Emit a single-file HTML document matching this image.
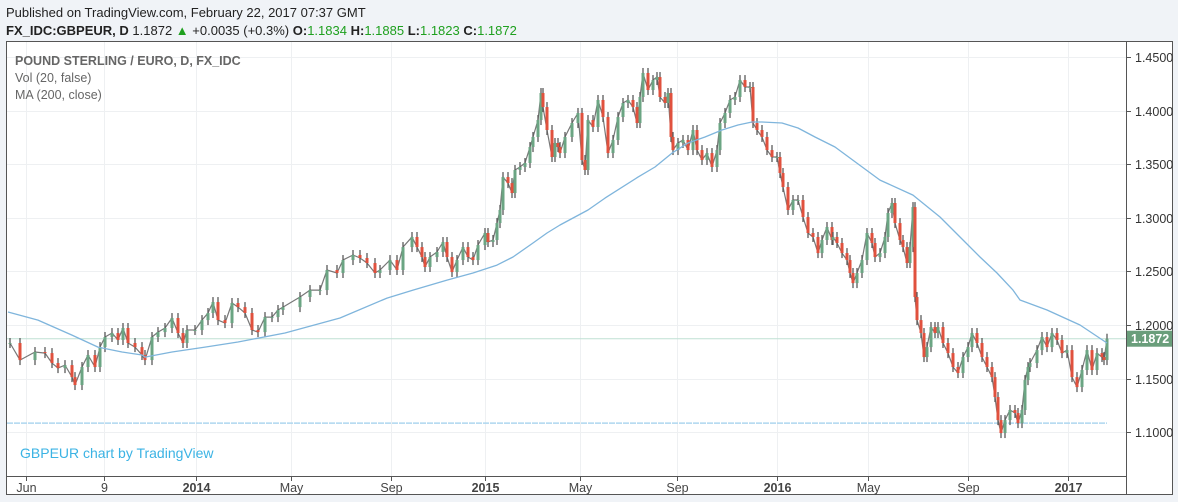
<!DOCTYPE html>
<html><head><meta charset="utf-8"><style>
html,body{margin:0;padding:0;background:#f0f3f7;width:1178px;height:502px;overflow:hidden;font-family:"Liberation Sans",sans-serif}
svg{display:block}
</style></head><body>
<svg id="chart" width="1178" height="502" xmlns="http://www.w3.org/2000/svg">
<text x="6" y="17" font-size="13" fill="#222">Published on TradingView.com, February 22, 2017 07:37 GMT</text>
<text x="6" y="35" font-size="13" fill="#222"><tspan font-weight="bold">FX_IDC:GBPEUR, D</tspan> 1.1872 <tspan fill="#1fa01f">▲</tspan> +0.0035 (+0.3%) <tspan font-weight="bold">O:</tspan><tspan fill="#1fa01f">1.1834</tspan> <tspan font-weight="bold">H:</tspan><tspan fill="#1fa01f">1.1885</tspan> <tspan font-weight="bold">L:</tspan><tspan fill="#1fa01f">1.1823</tspan> <tspan font-weight="bold">C:</tspan><tspan fill="#1fa01f">1.1872</tspan></text>
<rect x="6.5" y="41.5" width="1166" height="453" fill="#fff" stroke="#555"/>
<g id="grid"></g>
<g id="marks"></g>
<line x1="1126.5" y1="42" x2="1126.5" y2="494" stroke="#555"/>
<line x1="7" y1="476.5" x2="1126" y2="476.5" stroke="#555"/>
<g id="axes"></g>
<text x="15" y="65" font-size="12.5" font-weight="bold" fill="#666">POUND STERLING / EURO, D, FX_IDC</text>
<text x="15" y="82" font-size="12.5" fill="#666">Vol (20, false)</text>
<text x="15" y="99" font-size="12.5" fill="#666">MA (200, close)</text>
<text x="20" y="458" font-size="14" fill="#3bb3e4">GBPEUR chart by TradingView</text>
</svg>
<script>
const sessions = [2,12,27,37,44,50,57,64,67,74,80,87,92,97,104,110,115,120,127,134,137,144,150,157,164,170,175,179,187,194,200,205,210,217,224,230,237,244,250,257,264,270,275,
292,302,312,319,329,335,345,352,359,367,372,382,389,395,404,409,414,417,422,429,435,439,444,449,455,460,465,470,477,480,485,489,492,495,500,504,507,512,517,522,525,530,533,535,539,544,547,550,
552,557,564,570,574,577,580,585,590,595,600,605,610,615,620,625,629,632,635,640,645,649,652,657,660,663,665,670,675,680,685,689,694,699,704,709,712,717,722,727,732,737,742,745,749,754,759,764,769,772,775,780,785,790,795,800,805,810,814,819,824,
825,829,834,839,842,845,849,854,859,864,867,872,877,880,884,887,892,895,899,902,905,907,909,913,916,919,923,927,930,935,940,945,950,955,960,964,969,974,979,984,987,990,993,997,1002,1007,1010,1014,1017,1020,
1022,1029,1034,1039,1044,1049,1054,1059,1064,1069,1074,1079,1084,1089,1094,1096,1099];
const closes = [1.1832,1.1673,1.1748,1.1738,1.1645,1.1598,1.1626,1.1514,1.1440,1.1608,1.1720,1.1608,1.1794,1.1888,1.1925,1.1860,1.1972,1.1832,1.1794,1.1720,1.1673,1.1888,1.1934,1.1972,1.2065,1.1925,1.1832,1.1953,1.1953,1.2046,1.2112,1.2214,1.2046,1.2018,1.2205,1.2167,1.2112,1.1953,1.1934,1.2074,1.2074,1.2140,1.2167,
1.2261,1.2326,1.2326,1.2513,1.2485,1.2606,1.2653,1.2625,1.2578,1.2485,1.2513,1.2606,1.2513,1.2727,1.2821,1.2727,1.2634,1.2541,1.2634,1.2681,1.2774,1.2634,1.2494,1.2606,1.2727,1.2634,1.2606,1.2746,1.2858,1.2774,1.2793,1.2951,1.3073,1.3380,1.3324,1.3231,1.3446,1.3474,1.3511,1.3660,1.3754,1.3912,1.4164,1.4033,1.3819,1.3567,1.3698,1.3660,
1.3604,1.3754,1.3884,1.3978,1.3539,1.3446,1.3912,1.3847,1.4099,1.3940,1.3604,1.3726,1.3940,1.4071,1.4099,1.4033,1.3884,1.4127,1.4351,1.4192,1.4285,1.4313,1.4127,1.4071,1.4164,1.3754,1.3632,1.3698,1.3726,1.3632,1.3819,1.3632,1.3539,1.3604,1.3474,1.3632,1.3884,1.3978,1.4099,1.4127,1.4285,1.4220,1.4220,1.3884,1.3819,1.3754,1.3632,1.3567,1.3567,1.3418,1.3287,1.3073,1.3166,1.3166,1.3007,1.2858,1.2821,1.2671,1.2793,1.2914,1.2793,
1.2821,1.2765,1.2671,1.2606,1.2485,1.2391,1.2485,1.2606,1.2858,1.2765,1.2634,1.2671,1.2821,1.3045,1.3138,1.2951,1.2793,1.2727,1.2578,1.2727,1.3100,1.2261,1.2046,1.1925,1.1701,1.1794,1.1981,1.1925,1.1981,1.1832,1.1738,1.1608,1.1552,1.1701,1.1794,1.1925,1.1832,1.1701,1.1608,1.1514,1.1328,1.1113,1.0992,1.1113,1.1207,1.1179,1.1085,1.1207,1.1486,1.1608,
1.1645,1.1766,1.1888,1.1794,1.1925,1.1860,1.1738,1.1766,1.1514,1.1421,1.1580,1.1766,1.1580,1.1738,1.1701,1.1673,1.1872];
const maSessions = [0,30,64,90,114,134,137,164,197,230,277,332,379,405,439,465,489,505,525,539,552,580,597,630,647,664,680,697,714,730,744,754,774,790,807,827,872,905,932,955,972,989,1005,1012,1039,1072,1099];
const maValues = [1.2121,1.2046,1.1906,1.1794,1.1748,1.1720,1.1701,1.1748,1.1794,1.1841,1.1925,1.2065,1.2251,1.2326,1.2419,1.2485,1.2559,1.2634,1.2765,1.2858,1.2933,1.3073,1.3184,1.3380,1.3474,1.3604,1.3698,1.3754,1.3819,1.3866,1.3894,1.3894,1.3884,1.3838,1.3754,1.3660,1.3352,1.3212,1.3007,1.2793,1.2634,1.2485,1.2326,1.2233,1.2140,1.2000,1.1832];
const priceTicks = [1.10,1.15,1.20,1.25,1.30,1.35,1.40,1.45];
const timeLabels = ["Jun","9","2014","May","Sep","2015","May","Sep","2016","May","Sep","2017"];
const timeLabelSessions = [18,96,188,283,383,477,572,669,769,860,960,1060];
const boldLabels = ["2014","2015","2016","2017"];
const lastPrice = 1.1872;
const refLevel = 1.1085;

const NS="http://www.w3.org/2000/svg";
const X0=8, Y0=57, PX_PER_UNIT=1072, PMAX=1.45;
function xS(s){return X0+s;}
function yS(p){return Y0+(PMAX-p)*PX_PER_UNIT;}
function mk(tag,attrs,parent){const e=document.createElementNS(NS,tag);for(const k in attrs)e.setAttribute(k,attrs[k]);parent.appendChild(e);return e;}
const grid=document.getElementById('grid'),marks=document.getElementById('marks'),axes=document.getElementById('axes');

priceTicks.forEach(p=>{
  const y=Math.round(yS(p))+0.5;
  const g=mk('line',{x1:7,x2:1126,y1:y,y2:y,stroke:'#eef0f2'},grid);
  
  
  const t=mk('line',{x1:1126,x2:1131,y1:y,y2:y,stroke:'#555'},axes);
  
  
  const l=mk('text',{x:1135,y:y+4.5,'font-size':12.5,fill:'#333'},axes);
  l.textContent=p.toFixed(4);
  
  
});
timeLabels.forEach((lab,i)=>{
  const x=Math.round(xS(timeLabelSessions[i]))+0.5;
  const g=mk('line',{x1:x,x2:x,y1:42,y2:476,stroke:'#eef0f2'},grid);
  
  
  const t=mk('line',{x1:x,x2:x,y1:476,y2:481,stroke:'#555'},axes);
  
  
  const l=mk('text',{x:x,y:492,'font-size':12.5,fill:'#444','text-anchor':'middle','font-weight':boldLabels.includes(lab)?'bold':'normal'},axes);
  l.textContent=lab;
  
  
});

const rl=mk('line',{x1:7,x2:xS(sessions[sessions.length-1]),y1:yS(refLevel),y2:yS(refLevel),stroke:'#aed6ef','stroke-width':1.5,'stroke-dasharray':'6,1'},marks);


const lp=mk('line',{x1:7,x2:1126,y1:yS(lastPrice),y2:yS(lastPrice),stroke:'#bfe0d4'},marks);



// connecting price path (gives the dense daily look)
const pathPts=sessions.map((s,i)=>xS(s).toFixed(1)+','+yS(closes[i]).toFixed(1)).join(' ');
const pp=mk('polyline',{points:pathPts,fill:'none',stroke:'#777','stroke-width':1.2},marks);



for(let i=0;i<closes.length;i++){
  const c=closes[i], o=i>0?closes[i-1]:c;
  const x=xS(sessions[i]);
  const yT=yS(Math.max(o,c)), yB=yS(Math.min(o,c));
  const w=mk('line',{x1:x,x2:x,y1:yT-5,y2:yB+5,stroke:'#5a5a5a','stroke-width':1.3},marks);
  
  
  const b=mk('rect',{x:x-1.5,y:yT,width:3,height:Math.max(1,yB-yT),fill:c>=o?'#6ba583':'#e0513e'},marks);
  
  
}

const pts=maSessions.map((s,i)=>xS(s).toFixed(1)+','+yS(maValues[i]).toFixed(1)).join(' ');
const ma=mk('polyline',{points:pts,fill:'none',stroke:'#7fb5dc','stroke-width':1.3,'stroke-linejoin':'round'},marks);



const ly=yS(lastPrice);
const lr=mk('rect',{x:1127,y:ly-8,width:45,height:16,fill:'#6a9e7b'},axes);


const lt=mk('text',{x:1131,y:ly+4.5,'font-size':12.5,'font-weight':'bold',fill:'#fff'},axes);
lt.textContent=lastPrice.toFixed(4);


</script>
</body></html>
